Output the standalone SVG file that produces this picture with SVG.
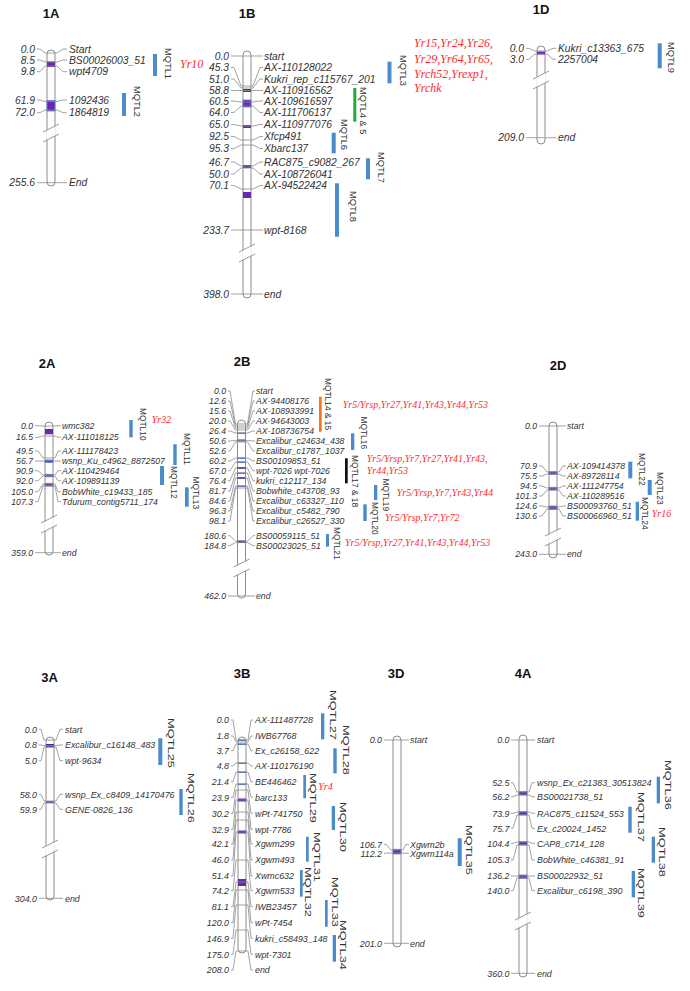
<svg xmlns="http://www.w3.org/2000/svg" width="690" height="991" viewBox="0 0 690 991" font-family="'Liberation Sans',Arial,sans-serif">
<style>
.c{fill:#fff;stroke:#8c8c8c;stroke-width:1}
.p{fill:#6a28b0}
.pb{fill:#6a28b0;stroke:#5a82d8;stroke-width:0.8}
.bl{fill:#4a70d8}
.bar{fill:#4a8bcb}
.ln{fill:none;stroke:#8c8c8c;stroke-width:0.8}
.m{font-style:italic;fill:#333}
.f1{font-size:10.3px}
.f2{font-size:8.7px}
.f3{font-size:8.9px}
.h{font-weight:bold;font-size:13px;fill:#111;text-anchor:middle}
.q{fill:#333}
.q1{font-size:9.3px}
.q2{font-size:8.4px}
.q3{font-size:9.5px}
.y{font-family:"Liberation Serif","Times New Roman",serif;font-style:italic;fill:#ff2b2b}
.y1{font-size:12px}
.y2{font-size:10px}
</style>
<defs>
<g id="brk"><polygon points="-4.7,-2.7 4.7,-7.3 4.7,2.7 -4.7,7.3" fill="#fff"/><path d="M-8 -1L8 -9M-8 9L8 1" fill="none" stroke="#8c8c8c" stroke-width="0.9"/></g>
</defs>
<rect width="690" height="991" fill="#fff"/>

<!-- ===== 1A ===== -->
<g id="chr1A">
<text class="h" x="51" y="18.3">1A</text>
<rect class="c" x="47" y="50" width="8" height="136" rx="4"/>
<rect class="p" x="47" y="61.5" width="8" height="5.5"/>
<rect class="pb" x="47" y="100.5" width="8" height="10.5"/>
<use href="#brk" x="51" y="133"/>
<g class="m f1" text-anchor="end">
<text x="35" y="52.7">0.0</text><text x="35" y="63.7">8.5</text><text x="35" y="75.4">9.8</text><text x="35" y="103.7">61.9</text><text x="35" y="116.4">72.0</text><text x="35" y="186.4">255.6</text>
</g>
<g class="m f1">
<text x="69" y="52.7">Start</text><text x="69" y="63.7">BS00026003_51</text><text x="69" y="75.4">wpt4709</text><text x="69" y="103.7">1092436</text><text x="69" y="116.4">1864819</text><text x="69" y="186.4">End</text>
</g>
</g>

<!-- ===== 1B ===== -->
<g id="chr1B">
<text class="h" x="247" y="18">1B</text>
<rect class="c" x="243" y="51" width="8" height="247" rx="4"/>
<rect class="p" x="243" y="89" width="8" height="3"/>
<rect class="pb" x="243" y="100" width="8" height="7"/>
<rect class="p" x="243" y="125" width="8" height="3"/>
<rect class="p" x="243" y="165" width="8" height="3"/>
<rect class="p" x="243" y="192" width="8" height="6"/>
<use href="#brk" x="247" y="253"/>
<g class="m f1" text-anchor="end">
<text x="229" y="59.7">0.0</text><text x="229" y="71.2">45.3</text><text x="229" y="82.7">51.0</text><text x="229" y="94.2">58.8</text><text x="229" y="104.7">60.5</text><text x="229" y="116.2">64.0</text><text x="229" y="128.2">65.0</text><text x="229" y="140.2">92.5</text><text x="229" y="152.2">95.3</text><text x="229" y="165.7">46.7</text><text x="229" y="177.7">50.0</text><text x="229" y="189.2">70.1</text><text x="229" y="233.7">233.7</text><text x="229" y="297.7">398.0</text>
</g>
<g class="m f1">
<text x="264" y="59.7">start</text><text x="264" y="71.2">AX-110128022</text><text x="264" y="82.7">Kukri_rep_c115767_201</text><text x="264" y="94.2">AX-110916562</text><text x="264" y="104.7">AX-109616597</text><text x="264" y="116.2">AX-111706137</text><text x="264" y="128.2">AX-110977076</text><text x="264" y="140.2">Xfcp491</text><text x="264" y="152.2">Xbarc137</text><text x="264" y="165.7">RAC875_c9082_267</text><text x="264" y="177.7">AX-108726041</text><text x="264" y="189.2">AX-94522424</text><text x="264" y="233.7">wpt-8168</text><text x="264" y="297.7">end</text>
</g>
</g>

<!-- ===== 1D ===== -->
<g id="chr1D">
<text class="h" x="541" y="13.5">1D</text>
<rect class="c" x="537" y="46" width="8" height="98" rx="4"/>
<rect class="p" x="537" y="51.5" width="8" height="3"/>
<use href="#brk" x="541" y="80"/>
<g class="m f1" text-anchor="end">
<text x="524" y="52">0.0</text><text x="524" y="63">3.0</text><text x="524" y="141.4">209.0</text>
</g>
<g class="m f1">
<text x="558" y="52">Kukri_c13363_675</text><text x="558" y="63">2257004</text><text x="558" y="141.4">end</text>
</g>
</g>

<!-- ===== 2A ===== -->
<g id="chr2A">
<text class="h" x="47" y="368">2A</text>
<rect class="c" x="45" y="422" width="8" height="133" rx="4"/>
<rect class="p" x="45" y="429" width="8" height="5.3"/>
<rect class="pb" x="45" y="460" width="8" height="2.5"/>
<rect class="pb" x="45" y="474.3" width="8" height="2.5"/>
<rect class="pb" x="45" y="483.3" width="8" height="2.7"/>
<use href="#brk" x="49" y="524"/>
<g class="m f2" text-anchor="end">
<text x="33" y="428.8">0.0</text><text x="33" y="440.4">16.5</text><text x="33" y="454.1">49.5</text><text x="33" y="464.1">56.7</text><text x="33" y="473.8">90.9</text><text x="33" y="483.8">92.0</text><text x="33" y="494.8">105.0</text><text x="33" y="504.8">107.3</text><text x="33" y="555.8">359.0</text>
</g>
<g class="m f2">
<text x="62" y="428.8">wmc382</text><text x="62" y="440.4">AX-111018125</text><text x="62" y="454.1">AX-111178423</text><text x="62" y="464.1">wsnp_Ku_c4962_8872507</text><text x="62" y="473.8">AX-110429464</text><text x="62" y="483.8">AX-109891139</text><text x="62" y="494.8">BobWhite_c19433_185</text><text x="62" y="504.8">Tdurum_contig5711_174</text><text x="62" y="555.8">end</text>
</g>
</g>

<!-- ===== 2B ===== -->
<g id="chr2B">
<text class="h" x="242" y="366">2B</text>
<rect class="c" x="237.5" y="420" width="8" height="178" rx="4"/>
<rect class="bl" x="237.5" y="432.5" width="8" height="1.5"/>
<rect class="p" x="237.5" y="439.5" width="8" height="2"/>
<rect class="bl" x="237.5" y="457.5" width="8" height="1.5"/>
<rect class="bl" x="237.5" y="461.5" width="8" height="1.5"/>
<rect class="p" x="237.5" y="467" width="8" height="2"/>
<rect class="bl" x="237.5" y="472.5" width="8" height="1.5"/>
<rect class="p" x="237.5" y="477" width="8" height="2"/>
<rect class="bl" x="237.5" y="485.5" width="8" height="1.5"/>
<rect class="p" x="237.5" y="540.5" width="8" height="2.5"/>
<use href="#brk" x="241.5" y="568"/>
<g class="m f2" text-anchor="end">
<text x="226" y="394.1">0.0</text><text x="226" y="404.1">12.6</text><text x="226" y="414.1">15.6</text><text x="226" y="424.1">20.0</text><text x="226" y="434.1">26.4</text><text x="226" y="444.1">50.6</text><text x="226" y="454.1">52.6</text><text x="226" y="464.1">60.2</text><text x="226" y="473.8">67.0</text><text x="226" y="483.8">76.4</text><text x="226" y="494.1">81.7</text><text x="226" y="504.1">84.6</text><text x="226" y="514.1">96.3</text><text x="226" y="524.1">98.1</text><text x="226" y="538.8">180.6</text><text x="226" y="548.8">184.8</text><text x="226" y="599.1">462.0</text>
</g>
<g class="m f2">
<text x="256" y="394.1">start</text><text x="256" y="404.1">AX-94408176</text><text x="256" y="414.1">AX-108933991</text><text x="256" y="424.1">AX-94643003</text><text x="256" y="434.1">AX-108736754</text><text x="256" y="444.1">Excalibur_c24634_438</text><text x="256" y="454.1">Excalibur_c1787_1037</text><text x="256" y="464.1">BS00109853_51</text><text x="256" y="473.8">wpt-7026 wpt-7026</text><text x="256" y="483.8">kukri_c12117_134</text><text x="256" y="494.1">Bobwhite_c43708_93</text><text x="256" y="504.1">Excalibur_c63327_110</text><text x="256" y="514.1">Excalibur_c5482_790</text><text x="256" y="524.1">Excalibur_c26527_330</text><text x="256" y="538.8">BS00059115_51</text><text x="256" y="548.8">BS00023025_51</text><text x="256" y="599.1">end</text>
</g>
</g>

<!-- ===== 2D ===== -->
<g id="chr2D">
<text class="h" x="558" y="370">2D</text>
<rect class="c" x="549" y="422" width="8" height="136" rx="4"/>
<rect class="pb" x="549" y="471.7" width="8" height="2.6"/>
<rect class="pb" x="549" y="487.3" width="8" height="2.7"/>
<rect class="pb" x="549" y="506" width="8" height="3.3"/>
<use href="#brk" x="553" y="537"/>
<g class="m f2" text-anchor="end">
<text x="537" y="429.1">0.0</text><text x="537" y="469.1">70.9</text><text x="537" y="479.1">75.5</text><text x="537" y="489.1">94.5</text><text x="537" y="499.1">101.3</text><text x="537" y="509.1">124.6</text><text x="537" y="519.1">130.6</text><text x="537" y="557.4">243.0</text>
</g>
<g class="m f2">
<text x="567" y="429.1">start</text><text x="567" y="469.1">AX-109414378</text><text x="567" y="479.1">AX-89728114</text><text x="567" y="489.1">AX-111247754</text><text x="567" y="499.1">AX-110289516</text><text x="567" y="509.1">BS00093760_51</text><text x="567" y="519.1">BS00066960_51</text><text x="567" y="557.4">end</text>
</g>
</g>

<!-- ===== 3A ===== -->
<g id="chr3A">
<text class="h" x="49.5" y="681.5">3A</text>
<rect class="c" x="46" y="737" width="8" height="163" rx="4"/>
<rect x="46" y="744" width="8" height="3.3" fill="#3b2b96"/>
<rect x="46" y="801" width="8" height="2" fill="#3c64c8"/>
<use href="#brk" x="50" y="849"/>
<g class="m f3" text-anchor="end">
<text x="37" y="732.5">0.0</text><text x="37" y="748.2">0.8</text><text x="37" y="763.9">5.0</text><text x="37" y="797.5">58.0</text><text x="37" y="812.5">59.9</text><text x="37" y="901.5">304.0</text>
</g>
<g class="m f3">
<text x="65" y="732.5">start</text><text x="65" y="748.2">Excalibur_c16148_483</text><text x="65" y="763.9">wpt-9634</text><text x="65" y="797.5">wsnp_Ex_c8409_14170476</text><text x="65" y="812.5">GENE-0826_136</text><text x="65" y="901.5">end</text>
</g>
</g>

<!-- ===== 3B ===== -->
<g id="chr3B">
<text class="h" x="242" y="678">3B</text>
<rect class="c" x="238" y="737" width="8" height="216" rx="4"/>
<rect class="bl" x="238" y="739.5" width="8" height="1.5"/>
<rect class="bl" x="238" y="743.5" width="8" height="1.5"/>
<rect class="bl" x="238" y="762.5" width="8" height="1.5"/>
<rect class="bl" x="238" y="771.5" width="8" height="1.5"/>
<rect class="bl" x="238" y="783.5" width="8" height="1.5"/>
<rect class="p" x="238" y="798.5" width="8" height="3"/>
<rect class="p" x="238" y="830.5" width="8" height="3"/>
<rect class="p" x="238" y="879" width="8" height="7"/>
<g class="m f3" text-anchor="end">
<text x="229" y="723.2">0.0</text><text x="229" y="739.2">1.8</text><text x="229" y="753.9">3.7</text><text x="229" y="769.2">4.8</text><text x="229" y="784.9">21.4</text><text x="229" y="800.5">23.9</text><text x="229" y="816.5">30.2</text><text x="229" y="832.5">32.9</text><text x="229" y="847.2">42.1</text><text x="229" y="863.2">46.0</text><text x="229" y="879.2">51.4</text><text x="229" y="893.9">74.2</text><text x="229" y="909.9">81.1</text><text x="229" y="925.9">120.0</text><text x="229" y="941.5">146.9</text><text x="229" y="957.5">175.0</text><text x="229" y="973.2">208.0</text>
</g>
<g class="m f3">
<text x="255" y="723.2">AX-111487728</text><text x="255" y="739.2">IWB67768</text><text x="255" y="753.9">Ex_c26158_622</text><text x="255" y="769.2">AX-110176190</text><text x="255" y="784.9">BE446462</text><text x="255" y="800.5">barc133</text><text x="255" y="816.5">wPt-741750</text><text x="255" y="832.5">wpt-7786</text><text x="255" y="847.2">Xgwm299</text><text x="255" y="863.2">Xgwm493</text><text x="255" y="879.2">Xwmc632</text><text x="255" y="893.9">Xgwm533</text><text x="255" y="909.9">IWB23457</text><text x="255" y="925.9">wPt-7454</text><text x="255" y="941.5">kukri_c58493_148</text><text x="255" y="957.5">wpt-7301</text><text x="255" y="973.2">end</text>
</g>
</g>

<!-- ===== 3D ===== -->
<g id="chr3D">
<text class="h" x="396" y="678">3D</text>
<rect class="c" x="393" y="736" width="8" height="211" rx="4"/>
<rect class="pb" x="393" y="849.3" width="8" height="4.7"/>
<g class="m f3" text-anchor="end">
<text x="382" y="743.2">0.0</text><text x="382" y="847.5">106.7</text><text x="382" y="856.5">112.2</text><text x="382" y="946.5">201.0</text>
</g>
<g class="m f3">
<text x="410" y="743.2">start</text><text x="410" y="847.5">Xgwm2b</text><text x="410" y="856.5">Xgwm114a</text><text x="410" y="946.5">end</text>
</g>
</g>

<!-- ===== 4A ===== -->
<g id="chr4A">
<text class="h" x="523" y="678">4A</text>
<rect class="c" x="519" y="735" width="8" height="242" rx="4"/>
<rect class="pb" x="519" y="791.7" width="8" height="3.3"/>
<rect class="pb" x="519" y="811.7" width="8" height="3.3"/>
<rect class="pb" x="519" y="841.7" width="8" height="3.3"/>
<rect class="pb" x="519" y="875" width="8" height="3.3"/>
<use href="#brk" x="523" y="921"/>
<g class="m f3" text-anchor="end">
<text x="509.5" y="743.2">0.0</text><text x="509.5" y="785.9">52.5</text><text x="509.5" y="799.9">56.2</text><text x="509.5" y="816.5">73.9</text><text x="509.5" y="831.5">75.7</text><text x="509.5" y="846.5">104.4</text><text x="509.5" y="863.2">105.3</text><text x="509.5" y="879.2">136.2</text><text x="509.5" y="893.9">140.0</text><text x="509.5" y="976.5">360.0</text>
</g>
<g class="m f3">
<text x="537" y="743.2">start</text><text x="537" y="785.9">wsnp_Ex_c21383_30513824</text><text x="537" y="799.9">BS00021738_51</text><text x="537" y="816.5">RAC875_c11524_553</text><text x="537" y="831.5">Ex_c20024_1452</text><text x="537" y="846.5">CAP8_c714_128</text><text x="537" y="863.2">BobWhite_c46381_91</text><text x="537" y="879.2">BS00022932_51</text><text x="537" y="893.9">Excalibur_c6198_390</text><text x="537" y="976.5">end</text>
</g>
</g>

<!-- ===== connectors (marker lines) ===== -->
<g id="connectors" class="ln">
<path d="M37 49H40L45 53H57L63 49H67M37 60H40L45 62H57L63 60H67M37 71.7H40L45 66H57L63 71.7H67M37 100H40L45 101.5H57L63 100H67M37 112.7H40L45 110H57L63 112.7H67M37 182.7H67"/>
<path d="M231 56H263M231 67.5H234L241 86H253L260 67.5H263M231 79H234L241 88H253L260 79H263M231 90.5H263M231 101H234L241 102H253L260 101H263M231 112.5H234L241 106H253L260 112.5H263M231 124.5H234L241 126H253L260 124.5H263M231 136.5H234L241 140H253L260 136.5H263M231 148.5H234L241 145H253L260 148.5H263M231 162H234L241 166H253L260 162H263M231 174H234L241 168H253L260 174H263M231 185.5H234L241 189H253L260 185.5H263M231 230H263M231 294H263"/>
<path d="M526 48.3H529L535 51H547L553 48.3H556M526 59.3H529L535 54H547L553 59.3H556M526 137.7H556"/>
<path d="M35 425.7H38L43 426H55L58 425.7H61M35 437.3H38L43 436H55L58 437.3H61M35 451H38L43 458H55L58 451H61M35 461H61M35 470.7H38L43 475H55L58 470.7H61M35 480.7H38L43 476H55L58 480.7H61M35 491.7H38L43 484H55L58 491.7H61M35 501.7H38L43 486H55L58 501.7H61M35 552.7H61"/>
<path d="M228 391H230L235.5 424H247.5L253 391H255M228 401H230L235.5 426H247.5L253 401H255M228 411H230L235.5 428H247.5L253 411H255M228 421H230L235.5 430H247.5L253 421H255M228 431H230L235.5 433H247.5L253 431H255M228 441H230L235.5 440.5H247.5L253 441H255M228 451H230L235.5 442H247.5L253 451H255M228 461H230L235.5 458H247.5L253 461H255M228 470.7H230L235.5 462H247.5L253 470.7H255M228 480.7H230L235.5 468H247.5L253 480.7H255M228 491H230L235.5 473H247.5L253 491H255M228 501H230L235.5 478H247.5L253 501H255M228 511H230L235.5 486H247.5L253 511H255M228 521H230L235.5 488H247.5L253 521H255M228 535.7H230L235.5 541H247.5L253 535.7H255M228 545.7H230L235.5 542.5H247.5L253 545.7H255M228 596H255"/>
<path d="M539 426H566M539 466H542L547 472H559L563 466H566M539 476H542L547 474H559L563 476H566M539 486H542L547 488H559L563 486H566M539 496H542L547 490H559L563 496H566M539 506H542L547 507H559L563 506H566M539 516H542L547 509H559L563 516H566M539 554.3H566"/>
<path d="M39 729.3H41L44 740H56L60 729.3H63M39 745H41L44 745.5H56L60 745H63M39 760.7H41L44 747H56L60 760.7H63M39 794.3H41L44 801H56L60 794.3H63M39 809.3H41L44 803H56L60 809.3H63M39 898.3H63"/>
<path d="M231 720H233L236 740H248L251 720H253M231 736H233L236 742H248L251 736H253M231 750.7H233L236 744H248L251 750.7H253M231 766H233L236 763H248L251 766H253M231 781.7H233L236 772H248L251 781.7H253M231 797.3H233L236 784H248L251 797.3H253M231 813.3H233L236 790H248L251 813.3H253M231 829.3H233L236 800H248L251 829.3H253M231 844H233L236 812H248L251 844H253M231 860H233L236 820H248L251 860H253M231 876H233L236 832H248L251 876H253M231 890.7H233L236 860H248L251 890.7H253M231 906.7H233L236 882H248L251 906.7H253M231 922.7H233L236 890H248L251 922.7H253M231 938.3H233L236 905H248L251 938.3H253M231 954.3H233L236 930H248L251 954.3H253M231 970H233L236 951H248L251 970H253"/>
<path d="M384 740H409M384 844.3H386L391 850H403L406 844.3H409M384 853.3H386L391 853H403L406 853.3H409M384 943.3H409"/>
<path d="M511 740H535M511 782.7H513L517 792H529L532 782.7H535M511 796.7H513L517 795H529L532 796.7H535M511 813.3H513L517 812H529L532 813.3H535M511 828.3H513L517 815H529L532 828.3H535M511 843.3H513L517 842H529L532 843.3H535M511 860H513L517 845H529L532 860H535M511 876H513L517 876H529L532 876H535M511 890.7H513L517 878H529L532 890.7H535M511 973.3H535"/>
</g>

<!-- ===== MQTL nodes ===== -->
<g id="MQTL1"><rect class="bar" x="153" y="54" width="4" height="22"/><text class="q q1" transform="translate(165,48) rotate(90)">MQTL1</text><text class="y y1" x="180" y="68">Yr10</text></g>
<g id="MQTL2"><rect class="bar" x="122" y="93" width="4" height="23"/><text class="q q1" transform="translate(134,86) rotate(90)">MQTL2</text></g>
<g id="MQTL3"><rect class="bar" x="387.5" y="61.7" width="4" height="21.6"/><text class="q q1" transform="translate(400,55) rotate(90)">MQTL3</text>
<text class="y y1" x="414" y="47">Yr15,Yr24,Yr26,</text><text class="y y1" x="414" y="62.5">Yr29,Yr64,Yr65,</text><text class="y y1" x="414" y="78">Yrch52,Yrexp1,</text><text class="y y1" x="414" y="91.5">Yrchk</text></g>
<g id="MQTL4-5"><rect x="353.3" y="88" width="3" height="33.7" fill="#1faa3a"/><text class="q q1" transform="translate(360,87) rotate(90)">MQTL4 &amp; 5</text></g>
<g id="MQTL6"><rect class="bar" x="331.7" y="132.7" width="4" height="20.6"/><text class="q q1" transform="translate(341,119) rotate(90)">MQTL6</text></g>
<g id="MQTL7"><rect class="bar" x="366" y="158.3" width="4" height="21"/><text class="q q1" transform="translate(378,152) rotate(90)">MQTL7</text></g>
<g id="MQTL8"><rect class="bar" x="335" y="183.3" width="4" height="53.4"/><text class="q q1" transform="translate(350,191) rotate(90)">MQTL8</text></g>
<g id="MQTL9"><rect class="bar" x="657.7" y="43.3" width="4" height="25"/><text class="q q1" transform="translate(668,42) rotate(90)">MQTL9</text></g>

<g id="MQTL10"><rect class="bar" x="129.3" y="420" width="3.4" height="17.3"/><text class="q q2" transform="translate(140,408) rotate(90)">MQTL10</text><text class="y y2" x="151.7" y="423">Yr32</text></g>
<g id="MQTL11"><rect class="bar" x="173.3" y="444.3" width="3.4" height="20.7"/><text class="q q2" transform="translate(184,433) rotate(90)">MQTL11</text></g>
<g id="MQTL12"><rect class="bar" x="160" y="466" width="4" height="19"/><text class="q q2" transform="translate(171,466) rotate(90)">MQTL12</text></g>
<g id="MQTL13"><rect class="bar" x="185" y="487.3" width="3.7" height="19.4"/><text class="q q2" transform="translate(192.5,476.5) rotate(90)">MQTL13</text></g>
<g id="MQTL14-15"><rect x="319" y="396.7" width="2.7" height="35" fill="#f07820"/><text class="q q2" transform="translate(325,378) rotate(90)">MQTL14 &amp; 15</text><text class="y y2" x="342.7" y="407.5">Yr5/Yrsp,Yr27,Yr41,Yr43,Yr44,Yr53</text></g>
<g id="MQTL16"><rect class="bar" x="351" y="433.3" width="3.3" height="16.7"/><text class="q q2" transform="translate(360.5,416.5) rotate(90)">MQTL16</text></g>
<g id="MQTL17-18"><rect x="345" y="458.3" width="2.7" height="25" fill="#111"/><text class="q q2" transform="translate(351.5,455) rotate(90)">MQTL17 &amp; 18</text><text class="y y2" x="366.7" y="461.5">Yr5/Yrsp,Yr7,Yr27,Yr41,Yr43,</text><text class="y y2" x="366.7" y="474">Yr44,Yr53</text></g>
<g id="MQTL19"><rect class="bar" x="374" y="485" width="3.3" height="15"/><text class="q q2" transform="translate(383,478.5) rotate(90)">MQTL19</text><text class="y y2" x="396.7" y="496">Yr5/Yrsp,Yr7,Yr43,Yr44</text></g>
<g id="MQTL20"><rect class="bar" x="363.3" y="504.3" width="3.4" height="16.7"/><text class="q q2" transform="translate(371.5,502) rotate(90)">MQTL20</text><text class="y y2" x="385" y="521">Yr5/Yrsp,Yr7,Yr72</text></g>
<g id="MQTL21"><rect class="bar" x="326" y="534" width="3" height="12.7"/><text class="q q2" transform="translate(334,527) rotate(90)">MQTL21</text><text class="y y2" x="345" y="546">Yr5/Yrsp,Yr27,Yr41,Yr43,Yr44,Yr53</text></g>
<g id="MQTL22"><rect class="bar" x="628.3" y="461.7" width="4" height="16.6"/><text class="q q2" transform="translate(639,453) rotate(90)">MQTL22</text></g>
<g id="MQTL23"><rect class="bar" x="647.7" y="480" width="4" height="15"/><text class="q q2" transform="translate(656.5,472) rotate(90)">MQTL23</text></g>
<g id="MQTL24"><rect class="bar" x="635.7" y="501.7" width="3.3" height="19"/><text class="q q2" transform="translate(641.5,497) rotate(90)">MQTL24</text><text class="y y2" x="651.7" y="517">Yr16</text></g>

<g id="MQTL25"><rect class="bar" x="158.3" y="738.3" width="4" height="26.7"/><text class="q q3" textLength="50" lengthAdjust="spacingAndGlyphs" transform="translate(168,718) rotate(90)">MQTL25</text></g>
<g id="MQTL26"><rect class="bar" x="179.3" y="789" width="3.4" height="26"/><text class="q q3" textLength="50" lengthAdjust="spacingAndGlyphs" transform="translate(188,773) rotate(90)">MQTL26</text></g>
<g id="MQTL27"><rect class="bar" x="321" y="713.3" width="3.3" height="26"/><text class="q q3" textLength="50" lengthAdjust="spacingAndGlyphs" transform="translate(330,690) rotate(90)">MQTL27</text></g>
<g id="MQTL28"><rect class="bar" x="333.3" y="748.3" width="3.4" height="25"/><text class="q q3" textLength="50" lengthAdjust="spacingAndGlyphs" transform="translate(343,725) rotate(90)">MQTL28</text></g>
<g id="MQTL29"><rect class="bar" x="303.3" y="775" width="2.7" height="23.3"/><text class="q q3" textLength="50" lengthAdjust="spacingAndGlyphs" transform="translate(310,773) rotate(90)">MQTL29</text><text class="y y2" x="318.3" y="790">Yr4</text></g>
<g id="MQTL30"><rect class="bar" x="331.7" y="806" width="3.3" height="24"/><text class="q q3" textLength="50" lengthAdjust="spacingAndGlyphs" transform="translate(340,802) rotate(90)">MQTL30</text></g>
<g id="MQTL31"><rect class="bar" x="306" y="836.7" width="2.7" height="25"/><text class="q q3" textLength="50" lengthAdjust="spacingAndGlyphs" transform="translate(314,832) rotate(90)">MQTL31</text></g>
<g id="MQTL32"><rect class="bar" x="300" y="870" width="2.7" height="26.7"/><text class="q q3" textLength="50" lengthAdjust="spacingAndGlyphs" transform="translate(305,867) rotate(90)">MQTL32</text></g>
<g id="MQTL33"><rect class="bar" x="325" y="900" width="2.7" height="26.7"/><text class="q q3" textLength="50" lengthAdjust="spacingAndGlyphs" transform="translate(331.5,877) rotate(90)">MQTL33</text></g>
<g id="MQTL34"><rect class="bar" x="332.7" y="935" width="3.3" height="26.7"/><text class="q q3" textLength="50" lengthAdjust="spacingAndGlyphs" transform="translate(340,920) rotate(90)">MQTL34</text></g>
<g id="MQTL35"><rect class="bar" x="457.7" y="838.3" width="4" height="27.7"/><text class="q q3" textLength="50" lengthAdjust="spacingAndGlyphs" transform="translate(466,825) rotate(90)">MQTL35</text></g>
<g id="MQTL36"><rect class="bar" x="656.7" y="776.7" width="3.3" height="26.6"/><text class="q q3" textLength="50" lengthAdjust="spacingAndGlyphs" transform="translate(665,760) rotate(90)">MQTL36</text></g>
<g id="MQTL37"><rect class="bar" x="628.3" y="806.7" width="3.4" height="26"/><text class="q q3" textLength="50" lengthAdjust="spacingAndGlyphs" transform="translate(638,792) rotate(90)">MQTL37</text></g>
<g id="MQTL38"><rect class="bar" x="651.7" y="836.7" width="3.3" height="26"/><text class="q q3" textLength="50" lengthAdjust="spacingAndGlyphs" transform="translate(659,827) rotate(90)">MQTL38</text></g>
<g id="MQTL39"><rect class="bar" x="631.7" y="871" width="3.3" height="26.3"/><text class="q q3" textLength="50" lengthAdjust="spacingAndGlyphs" transform="translate(638,868) rotate(90)">MQTL39</text></g>
</svg>
